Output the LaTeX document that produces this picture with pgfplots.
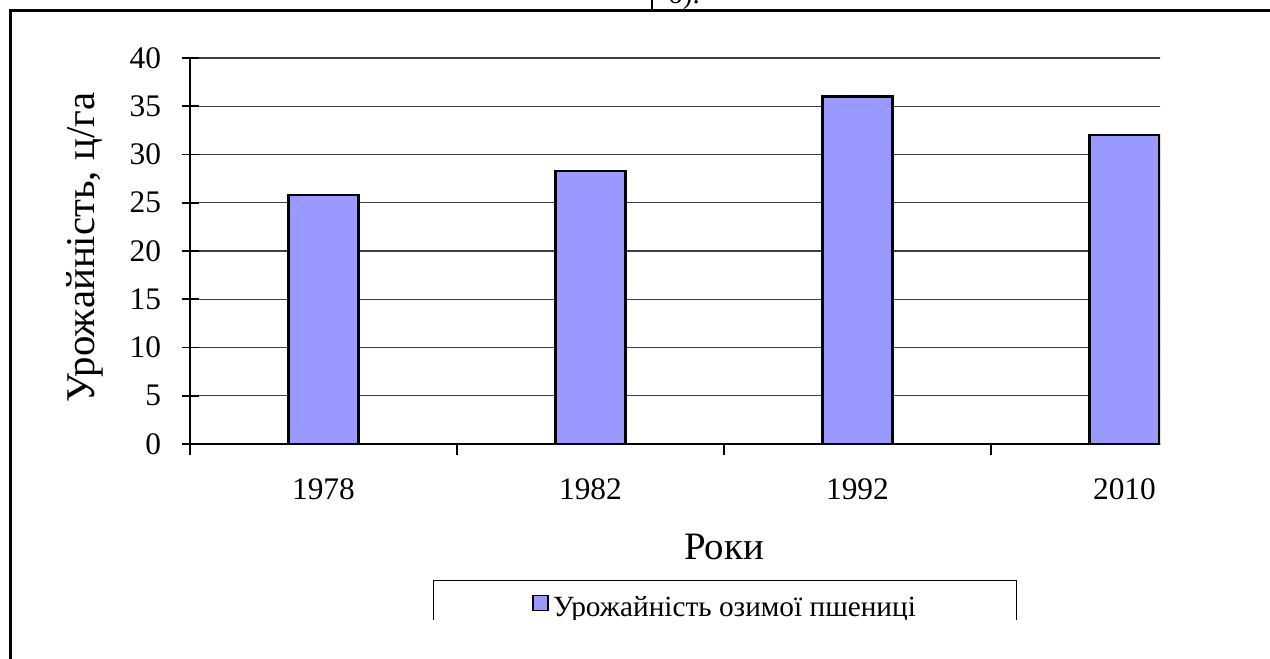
\documentclass[border=0pt]{standalone}
\usepackage{pgfplots}
\pgfplotsset{compat=1.18}
\usepackage{fontspec}
\setmainfont{Liberation Serif}
\definecolor{barcol}{HTML}{9999FF}
\begin{document}
\begin{tikzpicture}[font=\fontsize{29}{34}\selectfont]
\clip (0,0) rectangle (1270bp,659bp);
\fill[white] (0,0) rectangle (1270bp,659bp);
\draw[line width=2.5bp] (10.3bp,0) -- (10.3bp,648.7bp) -- (1270bp,648.7bp);
\draw[line width=2bp] (651.7bp,648.7bp) -- (651.7bp,659bp);
\node[anchor=base west, inner sep=0pt] at (668bp,655bp) {б).};
\begin{scope}
\clip (60bp,39bp) rectangle (1160bp,619bp);
\begin{axis}[
  scale only axis, width=1068bp, height=386bp,
  at={(190bp,215bp)}, anchor=south west,
  xmin=0.5, xmax=4.5, ymin=0, ymax=40,
  axis x line=bottom, axis y line=left,
  axis line style={line width=1.6bp, -},
  ytick={0,5,...,40},
  xtick={1,2,3,4}, xticklabels={1978,1982,1992,2010},
  minor xtick={0.5,1.5,2.5,3.5,4.5},
  major x tick style={draw=none},
  minor x tick style={line width=1.6bp, black},
  y tick style={line width=1.6bp, black},
  xtick align=outside, ytick align=center,
  major tick length=17bp, minor tick length=11bp,
  ymajorgrids,
  major grid style={line width=1.3bp, black!75},
  /pgf/number format/assume math mode=true,
  tick label style={font=\fontsize{31.5}{36}\selectfont},
  yticklabel style={xshift=-17bp},
  xticklabel style={yshift=-14bp},
  ylabel={Урожайність, ц/га},
  ylabel style={at={(axis description cs:-0.0983,0.509)}, anchor=center, font=\fontsize{41}{46}\selectfont},
  xlabel={Роки},
  xlabel style={at={(axis description cs:0.5,-0.267)}, anchor=center, font=\fontsize{39}{44}\selectfont},
  legend style={at={(axis description cs:0.2247,-0.3523)}, anchor=north west, xshift=3bp,
    draw=black, line width=1.3bp, inner xsep=98.5bp, inner ysep=14bp,
    font=\fontsize{29.4}{34}\selectfont},
  legend image code/.code={\draw[fill=barcol, draw=black, line width=1.8bp] (0bp,-3bp) rectangle (15bp,12bp);\path[draw=none, fill=none] (18bp,4bp) circle (0.1bp);},
]
\addplot[ybar, bar width=70bp, fill=barcol, draw=black, line width=2.5bp] coordinates {(1,25.8) (2,28.3) (3,36) (4,32)};
\addlegendentry{Урожайність озимої пшениці}
\end{axis}
\end{scope}
\end{tikzpicture}
\end{document}
